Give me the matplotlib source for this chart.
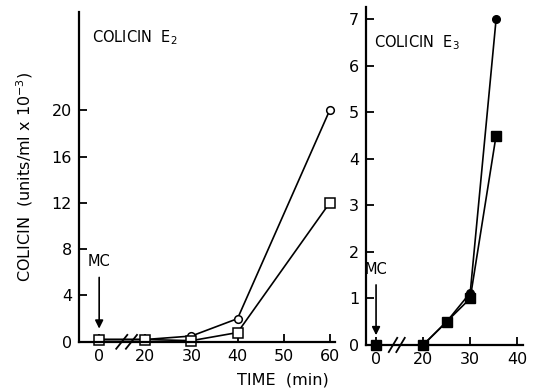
import numpy as np
import matplotlib.pyplot as plt

plt.rcParams['font.family'] = 'DejaVu Sans'
plt.rcParams['mathtext.default'] = 'regular'

# Colicin E2 (left panel)
e2_time = [0, 20, 30, 40, 60]
e2_circle = [0.2, 0.2, 0.5, 2.0, 20.0]
e2_square = [0.2, 0.2, 0.1, 0.8, 12.0]
e2_xticks = [0, 20, 30, 40, 50, 60]
e2_yticks = [0, 4, 8, 12, 16, 20]

# Colicin E3 (right panel)
e3_time = [0, 20, 25, 30, 35.5]
e3_circle = [0.0, 0.0, 0.5, 1.12, 7.0]
e3_square = [0.0, 0.0, 0.5, 1.0, 4.5]
e3_xticks = [0, 20, 30, 40]
e3_yticks = [0, 1, 2, 3, 4, 5, 6, 7]

BREAK_POS = 10  # time 0 drawn at position 10 (axis break)


def xpos(t):
    t = np.asarray(t, dtype=float)
    return np.where(t == 0, BREAK_POS, t)


def style_axis(ax):
    ax.spines['top'].set_visible(False)
    ax.spines['right'].set_visible(False)
    ax.spines['left'].set_linewidth(1.6)
    ax.spines['bottom'].set_linewidth(1.6)
    ax.tick_params(direction='in', length=6, width=1.3, labelsize=11.5, pad=5)


def break_marks(ax, centers, half_w, half_h=0.021):
    # slanted strokes "//" across the x axis
    for c in centers:
        ax.plot([c - half_w, c + half_w], [-half_h, half_h], color='black', lw=1.3,
                transform=ax.get_xaxis_transform(), clip_on=False)


fig = plt.figure(figsize=(5.33, 3.92), dpi=100)

# left panel
ax1 = fig.add_axes([0.148, 0.128, 0.481, 0.842])
ax1.plot(xpos(e2_time), e2_circle, '-o', color='black', lw=1.2,
         markerfacecolor='white', markeredgecolor='black', markersize=5.5, mew=1.1, clip_on=False)
ax1.plot(xpos(e2_time), e2_square, '-s', color='black', lw=1.2,
         markerfacecolor='white', markeredgecolor='black', markersize=6.5, mew=1.1, clip_on=False)
ax1.set_xlim(5.6, 61.2)
ax1.set_ylim(0, 28.5)
ax1.set_xticks(xpos(e2_xticks))
ax1.set_xticklabels([str(t) for t in e2_xticks])
ax1.set_yticks(e2_yticks)
style_axis(ax1)
break_marks(ax1, [14.9, 17.0], 1.2)
ax1.text(8.5, 26.3, 'COLICIN  E$_2$', fontsize=10.5, va='center')
ax1.annotate('', xy=(10, 0.9), xytext=(10, 5.8),
             arrowprops=dict(arrowstyle='-|>', color='black', lw=1.2, mutation_scale=12))
ax1.text(10, 6.9, 'MC', fontsize=10.5, ha='center', va='center')
ax1.set_ylabel('COLICIN  (units/ml x 10$^{-3}$)', fontsize=11.5, labelpad=12)

# right panel
ax2 = fig.add_axes([0.687, 0.12, 0.295, 0.862])
ax2.plot(xpos(e3_time), e3_circle, '-o', color='black', lw=1.2,
         markersize=5.5, clip_on=False)
ax2.plot(xpos(e3_time), e3_square, '-s', color='black', lw=1.2,
         markersize=7, clip_on=False)
ax2.set_xlim(7.9, 41.3)
ax2.set_ylim(0, 7.26)
ax2.set_xticks(xpos(e3_xticks))
ax2.set_xticklabels([str(t) for t in e3_xticks])
ax2.set_yticks(e3_yticks)
style_axis(ax2)
break_marks(ax2, [13.6, 15.2], 0.9)
ax2.text(9.5, 6.5, 'COLICIN  E$_3$', fontsize=10.5, va='center')
ax2.annotate('', xy=(10, 0.15), xytext=(10, 1.35),
             arrowprops=dict(arrowstyle='-|>', color='black', lw=1.2, mutation_scale=12))
ax2.text(10, 1.62, 'MC', fontsize=10.5, ha='center', va='center')

fig.text(0.53, 0.03, 'TIME  (min)', fontsize=11.5, ha='center', va='center')

fig.savefig('out.png', dpi=100)
